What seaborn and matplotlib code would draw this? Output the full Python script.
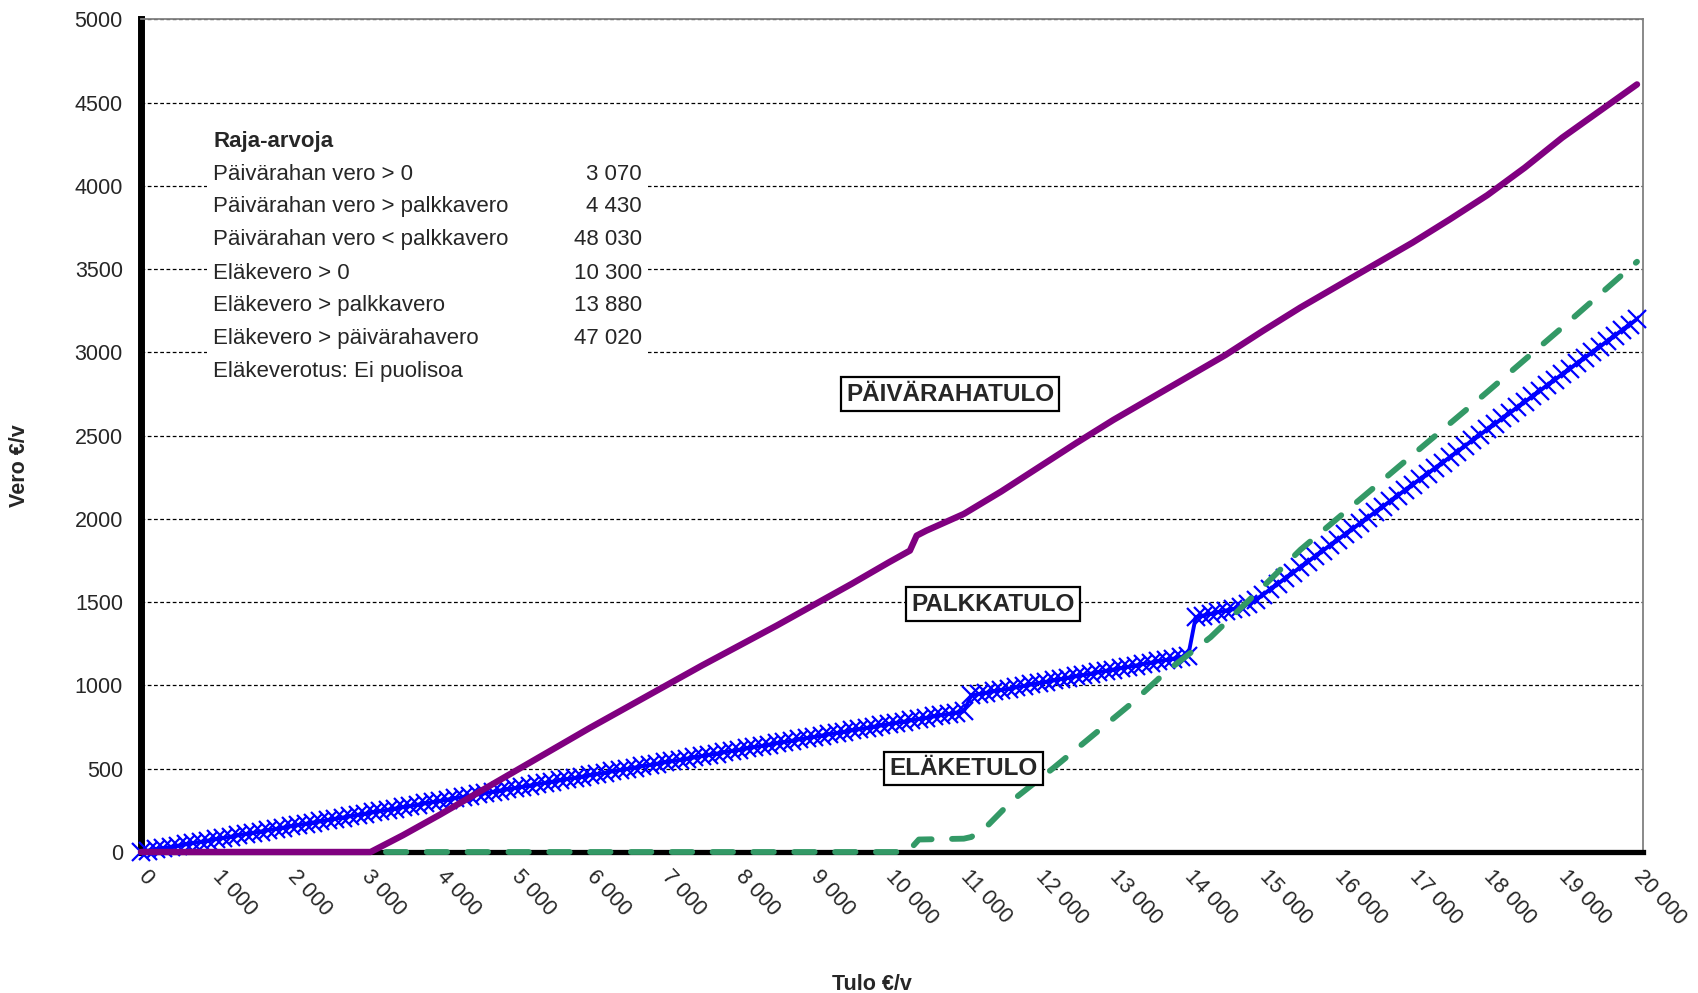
import numpy as np
import pandas as pd
import matplotlib.pyplot as plt
import matplotlib.patches as mpatches
from matplotlib.ticker import FuncFormatter, MultipleLocator
import seaborn as sns

# Palkkatulo (sininen, merkit 100 euron välein)
palkka_x = list(range(0, 20001, 100))
palkka_vero = [
    0, 8, 15, 23, 31, 38, 46, 54, 61, 69, 77,
    84, 92, 100, 108, 115, 123, 131, 138, 146, 154,
    161, 169, 177, 184, 192, 200, 207, 215, 223, 230,
    238, 246, 253, 261, 269, 276, 284, 292, 299, 307,
    315, 323, 330, 338, 346, 353, 361, 369, 376, 384,
    392, 399, 407, 415, 422, 430, 438, 445, 453, 461,
    468, 476, 484, 492, 499, 507, 515, 522, 530, 538,
    545, 553, 561, 568, 576, 584, 591, 599, 607, 614,
    622, 630, 637, 645, 653, 660, 668, 676, 684, 691,
    699, 707, 714, 722, 730, 737, 745, 753, 760, 768,
    776, 783, 791, 799, 806, 814, 822, 829, 837, 845,
    940, 948, 956, 965, 973, 981, 989, 997, 1006, 1014,
    1022, 1030, 1038, 1047, 1055, 1063, 1071, 1079, 1088, 1096,
    1104, 1112, 1120, 1129, 1137, 1145, 1153, 1161, 1170, 1178,
    1410, 1420, 1430, 1440, 1450, 1458, 1470, 1490, 1515, 1545,
    1578, 1611, 1644, 1677, 1710, 1743, 1777, 1810, 1843, 1876,
    1909, 1942, 1975, 2008, 2041, 2074, 2107, 2141, 2174, 2207,
    2240, 2273, 2306, 2339, 2372, 2405, 2439, 2472, 2505, 2538,
    2571, 2604, 2637, 2670, 2703, 2736, 2770, 2803, 2836, 2869,
    2902, 2935, 2968, 3001, 3034, 3067, 3101, 3134, 3167, 3200,
]

# Päivärahatulo (violetti)
paiva_x = [0, 3000, 3070, 3500, 4000, 4500, 5000, 5500, 6000, 6500, 7000, 7500,
           8000, 8500, 9000, 9500, 10000, 10280, 10370, 10500, 11000, 11500,
           12000, 12500, 13000, 13500, 14000, 14500, 15000, 15500, 16000, 16500,
           17000, 17500, 18000, 18500, 19000, 19500, 20000]
paiva_vero = [0, 0, 0, 100, 225, 355, 485, 615, 745, 870, 995, 1120,
              1240, 1360, 1485, 1610, 1740, 1810, 1900, 1930, 2030, 2165,
              2310, 2455, 2595, 2725, 2855, 2985, 3130, 3270, 3400, 3530,
              3660, 3800, 3945, 4110, 4290, 4450, 4610]

# Eläketulo (vihreä katkoviiva)
elake_x = [0, 10250, 10400, 11000, 11100, 11300, 11650, 12200, 13250, 13700,
           14300, 15050, 15500, 16000, 17000, 17900, 19000, 20000]
elake_vero = [0, 0, 75, 80, 90, 150, 310, 505, 895, 1080,
              1290, 1615, 1815, 2005, 2385, 2725, 3150, 3545]

raja_tekstit = ["Päivärahan vero > 0", "Päivärahan vero > palkkavero",
                "Päivärahan vero < palkkavero", "Eläkevero > 0",
                "Eläkevero > palkkavero", "Eläkevero > päivärahavero"]
raja_arvot = [3070, 4430, 48030, 10300, 13880, 47020]

sns.set_style("white")
plt.rcParams['font.family'] = ['Liberation Sans', 'DejaVu Sans']

fig = plt.figure(figsize=(16.98, 9.93), dpi=100)
ax = fig.add_axes([0.083, 0.142, 0.8846, 0.8384])

df_p = pd.DataFrame({"tulo": palkka_x, "vero": palkka_vero})
df_v = pd.DataFrame({"tulo": paiva_x, "vero": paiva_vero})
df_e = pd.DataFrame({"tulo": elake_x, "vero": elake_vero})

sns.lineplot(data=df_p, x="tulo", y="vero", ax=ax, color="#0000FF", lw=2.8,
             marker="x", markersize=13, markeredgecolor="#0000FF",
             markeredgewidth=1.6, zorder=4, clip_on=False)
sns.lineplot(data=df_e, x="tulo", y="vero", ax=ax, color="#339966", lw=4.2,
             zorder=5, clip_on=False)
ax.lines[-1].set_dashes([3.5, 3.5])
ax.lines[-1].set_dash_capstyle("round")
sns.lineplot(data=df_v, x="tulo", y="vero", ax=ax, color="#800080", lw=4.6,
             zorder=6, clip_on=False)
ax.lines[-1].set_solid_capstyle("round")

ax.set_xlim(0, 20080)
ax.set_ylim(0, 5000)
ax.xaxis.set_major_locator(MultipleLocator(1000))
ax.yaxis.set_major_locator(MultipleLocator(500))
ax.xaxis.set_major_formatter(FuncFormatter(lambda v, p: f"{int(v):,}".replace(",", " ")))

ax.set_axisbelow(True)
ax.yaxis.grid(True, color="black", linestyle=(0, (3, 2)), linewidth=0.9)
ax.xaxis.grid(False)

for s in ["top", "right"]:
    ax.spines[s].set_color("#808080")
    ax.spines[s].set_linewidth(1.3)
ax.spines["left"].set_color("black")
ax.spines["left"].set_linewidth(5)
ax.spines["bottom"].set_color("black")
ax.spines["bottom"].set_linewidth(3.8)

ax.tick_params(axis="y", direction="out", length=5, width=3.5, labelsize=15.5, pad=8, color="black")
ax.tick_params(axis="x", direction="out", length=6, width=3, labelsize=15.5, pad=9, color="black")
for lab in ax.get_xticklabels():
    lab.set_rotation(-47)
    lab.set_ha("left")
    lab.set_va("center")
    lab.set_rotation_mode("anchor")

ax.set_xlabel("Tulo €/v", fontsize=15.5, fontweight="bold")
ax.set_ylabel("Vero €/v", fontsize=15.5, fontweight="bold")
ax.xaxis.set_label_coords(0.487, -0.146)
ax.yaxis.set_label_coords(-0.074, 0.464)

# raja-arvolaatikko
ax.add_patch(mpatches.Rectangle((880, 2740), 5900, 1650, facecolor="white",
                                edgecolor="none", zorder=1))
rivit_y = [4071, 3875, 3677, 3476, 3284, 3083]
ax.text(970, 4266, "Raja-arvoja", fontsize=16, fontweight="bold", va="center", zorder=7)
for t, a, yy in zip(raja_tekstit, raja_arvot, rivit_y):
    ax.text(970, yy, t, fontsize=16, va="center", zorder=7)
    ax.text(6700, yy, f"{a:,}".replace(",", " "), fontsize=16, va="center", ha="right", zorder=7)
ax.text(970, 2887, "Eläkeverotus: Ei puolisoa", fontsize=16, va="center", zorder=7)

laatikko = dict(boxstyle="square,pad=0.22", facecolor="white", edgecolor="black", linewidth=1.6)
ax.text(10816, 2750, "PÄIVÄRAHATULO", fontsize=17.5, fontweight="bold",
        ha="center", va="center", bbox=laatikko, zorder=8)
ax.text(11390, 1489, "PALKKATULO", fontsize=17.5, fontweight="bold",
        ha="center", va="center", bbox=laatikko, zorder=8)
ax.text(10999, 501, "ELÄKETULO", fontsize=17.5, fontweight="bold",
        ha="center", va="center", bbox=laatikko, zorder=8)

fig.savefig("out.png", dpi=100, facecolor="white")
